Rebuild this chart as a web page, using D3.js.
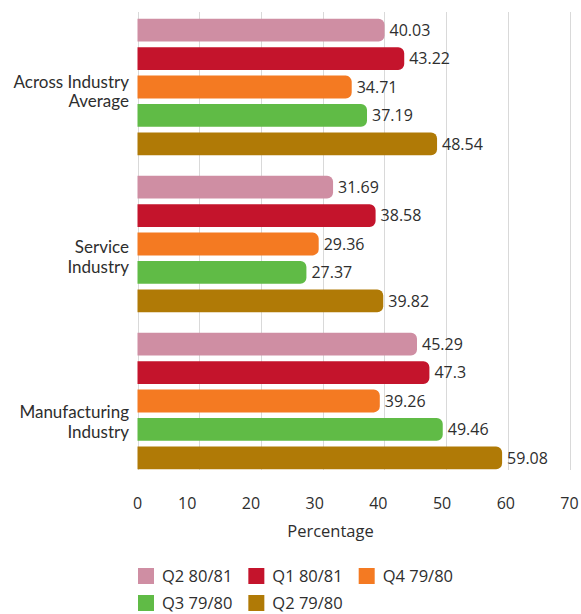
<!DOCTYPE html>
<html>
<head>
<meta charset="utf-8">
<script src="https://cdn.jsdelivr.net/npm/d3@7"></script>
<style>
  html, body { margin: 0; padding: 0; background: #fff; }
  svg { display: block; font-family: "Open Sans", sans-serif; }
</style>
</head>
<body>
<svg id="chart" width="581" height="614"></svg>
<script>
const categories = ["Across Industry Average", "Service Industry", "Manufacturing Industry"];
const categoryLines = [["Across Industry", "Average"], ["Service", "Industry"], ["Manufacturing", "Industry"]];
const seriesNames = ["Q2 80/81", "Q1 80/81", "Q4 79/80", "Q3 79/80", "Q2 79/80"];
const seriesColors = ["#cf8ea3", "#c4142c", "#f47a22", "#60bb46", "#b07a06"];
const q2_8081 = [40.03, 31.69, 45.29];
const q1_8081 = [43.22, 38.58, 47.3];
const q4_7980 = [34.71, 29.36, 39.26];
const q3_7980 = [37.19, 27.37, 49.46];
const q2_7980 = [48.54, 39.82, 59.08];
const seriesValues = [q2_8081, q1_8081, q4_7980, q3_7980, q2_7980];
const xTicks = [0, 10, 20, 30, 40, 50, 60, 70];
const xTitle = "Percentage";

const svg = d3.select("#chart");
const textColor = "#2e2e2e";

const x = d3.scaleLinear().domain([0, 70]).range([137.5, 569.5]);
const y0 = d3.scaleBand().domain(categories).range([14, 474]).paddingInner(0.13).paddingOuter(0.03);
const y1 = d3.scaleBand().domain(seriesNames).range([0, y0.bandwidth()]).paddingInner(0.2).paddingOuter(0);

// gridlines
svg.append("g").selectAll("line").data(xTicks).join("line")
  .attr("x1", d => Math.round(x(d)) + 0.5).attr("x2", d => Math.round(x(d)) + 0.5)
  .attr("y1", 12).attr("y2", 470)
  .attr("stroke", "#d9d9d9").attr("stroke-width", 1);

// x tick labels
svg.append("g").selectAll("text").data(xTicks).join("text")
  .attr("x", d => x(d) - (d === 0 ? 0 : (70 - d) / 5))
  .attr("y", 509)
  .attr("text-anchor", "middle")
  .attr("font-size", 16)
  .attr("fill", textColor)
  .text(d => d);

svg.append("text")
  .attr("x", (x(0) + x(70)) / 2 - 23)
  .attr("y", 537)
  .attr("text-anchor", "middle")
  .attr("font-size", 16.5)
  .attr("fill", textColor)
  .text(xTitle);

// rounded right-end bar path
function barPath(x0, yTop, w, h, r) {
  r = Math.min(r, w, h / 2);
  return `M${x0},${yTop}H${x0 + w - r}A${r},${r} 0 0 1 ${x0 + w},${yTop + r}` +
         `V${yTop + h - r}A${r},${r} 0 0 1 ${x0 + w - r},${yTop + h}H${x0}Z`;
}

const rows = [];
categories.forEach((c, ci) => {
  seriesNames.forEach((s, si) => {
    rows.push({ cat: c, series: s, value: seriesValues[si][ci], color: seriesColors[si] });
  });
});

const bars = svg.append("g");
bars.selectAll("path").data(rows).join("path")
  .attr("d", d => barPath(x(0), y0(d.cat) + y1(d.series), x(d.value) - x(0), y1.bandwidth(), 6))
  .attr("fill", d => d.color);

bars.selectAll("text").data(rows).join("text")
  .attr("x", d => x(d.value) + 5)
  .attr("y", d => y0(d.cat) + y1(d.series) + y1.bandwidth() / 2)
  .attr("dy", "0.36em")
  .attr("font-size", 16)
  .attr("fill", textColor)
  .text(d => d.value);

// category labels (one text element per line)
const catG = svg.append("g");
categories.forEach((c, ci) => {
  const cy = y0(c) + y0.bandwidth() / 2 + 4 + 8.5 * ci;
  categoryLines[ci].forEach((line, li) => {
    catG.append("text")
      .attr("x", 129)
      .attr("y", cy - 3.5 + li * 19.5)
      .attr("text-anchor", "end")
      .attr("font-family", "Lato, sans-serif")
      .attr("font-size", 17)
      .attr("fill", textColor)
      .text(line);
  });
});

// legend
const legend = svg.append("g");
let lx = 138, ly = 568;
seriesNames.forEach((s, i) => {
  const g = legend.append("g");
  g.append("rect").attr("width", 16).attr("height", 16).attr("fill", seriesColors[i]);
  const t = g.append("text").attr("x", 24).attr("y", 14).attr("font-size", 16.5).attr("fill", textColor).text(s);
  const w = 24 + t.node().getComputedTextLength() + 16;
  if (lx + w > 520) { lx = 138; ly += 27; }
  g.attr("transform", `translate(${lx},${ly})`);
  lx += w;
});
</script>
</body>
</html>
